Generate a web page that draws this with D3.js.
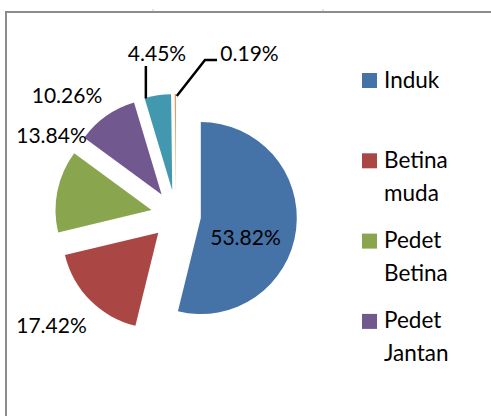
<!DOCTYPE html>
<html>
<head>
<meta charset="utf-8">
<script src="https://cdn.jsdelivr.net/npm/d3@7.9.0/dist/d3.min.js"></script>
<style>
  body { margin: 0; background: #fff; }
  svg { display: block; font-family: Lato, "Open Sans", sans-serif; }
</style>
</head>
<body>
<svg id="chart" width="491" height="416"></svg>
<script>
// data
const categories = ['Induk', 'Betina muda', 'Pedet Betina', 'Pedet Jantan', 'Lain-lain', 'Lainnya'];
const values = [53.82, 17.42, 13.84, 10.26, 4.45, 0.19];
const legendLines = [['Induk'], ['Betina', 'muda'], ['Pedet', 'Betina'], ['Pedet', 'Jantan']];
const colors = ['#4572A7', '#AA4643', '#89A54E', '#71588F', '#4198AF', '#F08A3E'];

const svg = d3.select('#chart');
const cx = 176, cy = 215;   // pie centre before explosion
const radius = 96;
const explode = 25;

// frame of the chart area (runs off right and bottom)
svg.append('rect')
  .attr('x', 6).attr('y', 12)
  .attr('width', 500).attr('height', 420)
  .attr('fill', 'none')
  .attr('stroke', '#8c8c8c')
  .attr('stroke-width', 2);
// little cell marks above the frame
[153, 323].forEach(x => {
  svg.append('line').attr('x1', x).attr('x2', x).attr('y1', 9).attr('y2', 11)
    .attr('stroke', '#c8c8c8').attr('stroke-width', 1);
});

const pie = d3.pie().sort(null).value(d => d)(values);
const arc = d3.arc().innerRadius(0).outerRadius(radius);

// offset of each slice along its middle angle
function shift(d) {
  const a = (d.startAngle + d.endAngle) / 2;
  return [Math.sin(a) * explode, -Math.cos(a) * explode];
}
function outerMid(d, extra = 0) {
  const a = (d.startAngle + d.endAngle) / 2;
  const [sx, sy] = shift(d);
  return [cx + sx + Math.sin(a) * (radius + extra), cy + sy - Math.cos(a) * (radius + extra)];
}

const g = svg.append('g');
g.selectAll('path')
  .data(pie)
  .join('path')
  .attr('d', arc)
  .attr('fill', (d, i) => colors[i])
  .attr('transform', d => {
    const [sx, sy] = shift(d);
    return `translate(${cx + sx},${cy + sy})`;
  });

// data labels (Excel placed them by hand, so positions are per label)
const labelPos = [
  { x: 245.5, y: 245, anchor: 'middle' },
  { x: 51.5, y: 333, anchor: 'middle' },
  { x: 51.5, y: 143, anchor: 'middle' },
  { x: 67, y: 103, anchor: 'middle' },
  { x: 157, y: 61, anchor: 'middle' },
  { x: 249.5, y: 61, anchor: 'middle' }
];
svg.append('g')
  .selectAll('text')
  .data(pie)
  .join('text')
  .attr('x', (d, i) => labelPos[i].x)
  .attr('y', (d, i) => labelPos[i].y)
  .attr('text-anchor', (d, i) => labelPos[i].anchor)
  .attr('font-size', 21)
  .attr('fill', '#000')
  .text(d => d3.format('.2f')(d.data) + '%');

// leader lines for the two small slices
const tealEnd = outerMid(pie[4], -1);
svg.append('path')
  .attr('d', d3.line()([[tealEnd[0] - 12, tealEnd[1] + 2], [tealEnd[0] - 12, 66]]))
  .attr('fill', 'none').attr('stroke', '#000').attr('stroke-width', 2.5);

const orEnd = outerMid(pie[5], 0);
svg.append('path')
  .attr('d', d3.line()([[orEnd[0] + 1.5, orEnd[1] + 2], [205, 60], [217, 60]]))
  .attr('fill', 'none').attr('stroke', '#000').attr('stroke-width', 2.5);

// legend
const legend = svg.append('g').attr('transform', 'translate(362,73)');
const rows = legend.selectAll('g')
  .data(legendLines)
  .join('g')
  .attr('transform', (d, i) => `translate(0,${i * 80.3})`);
rows.append('rect')
  .attr('width', 15).attr('height', 15)
  .attr('fill', (d, i) => colors[i]);
rows.append('text')
  .attr('x', 22)
  .attr('y', 14.5)
  .attr('font-size', 22.5)
  .attr('fill', '#000')
  .selectAll('tspan')
  .data(d => d)
  .join('tspan')
  .attr('x', 22)
  .attr('dy', (d, i) => i === 0 ? 0 : 33)
  .text(d => d);
</script>
</body>
</html>
